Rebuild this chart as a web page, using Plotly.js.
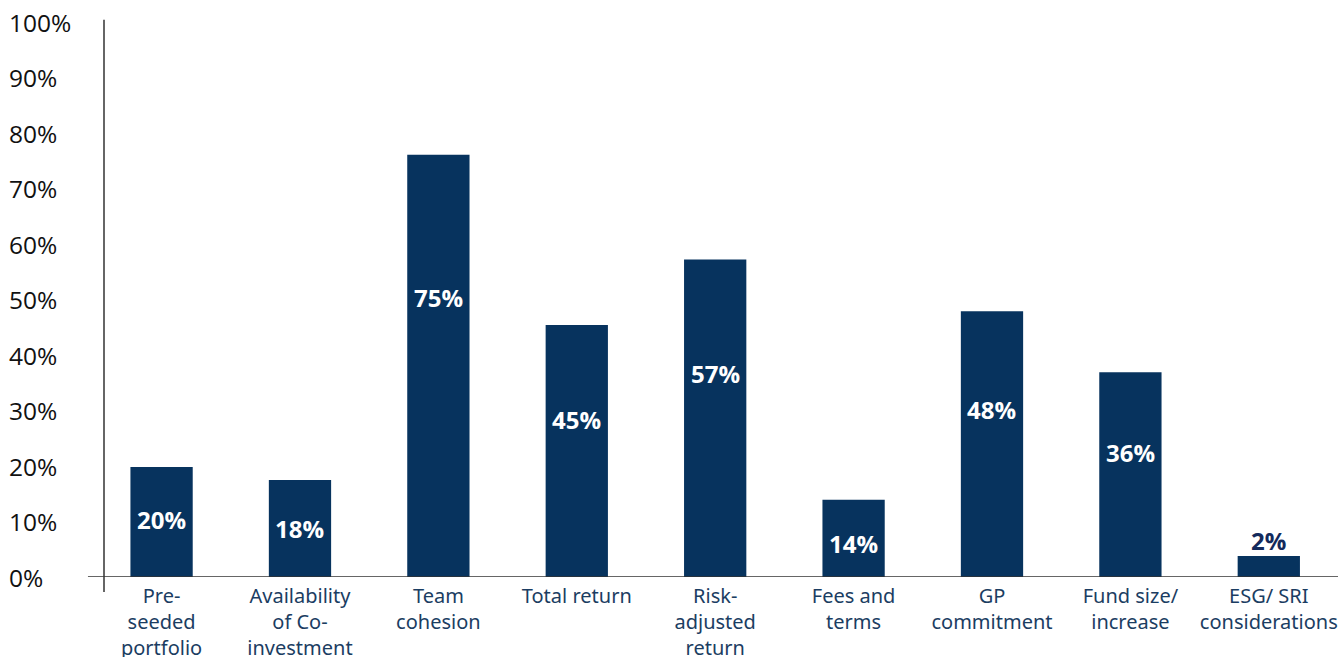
<!DOCTYPE html>
<html>
<head>
<meta charset="utf-8">
<script src="https://cdn.plot.ly/plotly-3.0.1.min.js"></script>
<style>html,body{margin:0;padding:0;background:#fff;}#chart{width:1338px;height:657px;}</style>
</head>
<body>
<div id="chart"></div>
<script>
const categories = ["Pre-<br>seeded<br>portfolio", "Availability<br>of Co-<br>investment", "Team<br>cohesion", "Total return", "Risk-<br>adjusted<br>return", "Fees and<br>terms", "GP<br>commitment", "Fund size/<br>increase", "ESG/ SRI<br>considerations"];
const values = [19.8, 17.5, 76.1, 45.4, 57.2, 13.9, 47.9, 36.9, 3.8];
const valueLabels = ["20%", "18%", "75%", "45%", "57%", "14%", "48%", "36%", "2%"];
const labelY = [10.3, 8.8, 50.4, 28.4, 36.7, 6.1, 30.2, 22.5, 6.6];
const yTicks = [0, 10, 20, 30, 40, 50, 60, 70, 80, 90, 100];

const idx = categories.map((_, i) => i);
const annotations = [];
valueLabels.forEach((t, i) => {
  const outside = values[i] < 8;
  annotations.push({
    x: idx[i], y: labelY[i], xref: 'x', yref: 'y', text: '<b>' + t + '</b>', showarrow: false,
    font: {family: 'Open Sans, sans-serif', size: 24, color: outside ? '#132a5c' : '#ffffff'},
    xanchor: 'center', yanchor: 'middle'
  });
});
yTicks.forEach(v => {
  annotations.push({
    x: -0.079, y: v, xref: 'paper', yref: 'y', text: v + '%', showarrow: false,
    font: {family: 'Open Sans, sans-serif', size: 24.5, color: '#111111'},
    xanchor: 'left', yanchor: 'middle'
  });
});

const trace = {
  type: 'bar', x: idx, y: values, width: 0.45,
  marker: {color: '#07335e'}, hoverinfo: 'none'
};

const layout = {
  width: 1338, height: 657,
  margin: {l: 104, r: 0, t: 22, b: 80},
  paper_bgcolor: '#ffffff', plot_bgcolor: '#ffffff',
  showlegend: false,
  xaxis: {
    range: [-0.416, 8.5], tickmode: 'array', tickvals: idx, ticktext: categories,
    showgrid: false, zeroline: false, showline: false, ticks: '',
    ticklabelstandoff: 5,
    tickfont: {family: 'Noto Sans, sans-serif', size: 20, color: '#1b3d62'}
  },
  yaxis: {
    range: [0, 100], showgrid: false, zeroline: false, showline: false,
    showticklabels: false, ticks: ''
  },
  shapes: [
    {type: 'line', xref: 'paper', yref: 'y', x0: -0.013, x1: 1, y0: 0, y1: 0, line: {color: '#333333', width: 1.5}},
    {type: 'line', xref: 'paper', yref: 'paper', x0: 0, x1: 0, y0: -0.027, y1: 1.004, line: {color: '#333333', width: 1.5}}
  ],
  annotations: annotations
};

Plotly.newPlot('chart', [trace], layout, {staticPlot: true, displayModeBar: false});
</script>
</body>
</html>
